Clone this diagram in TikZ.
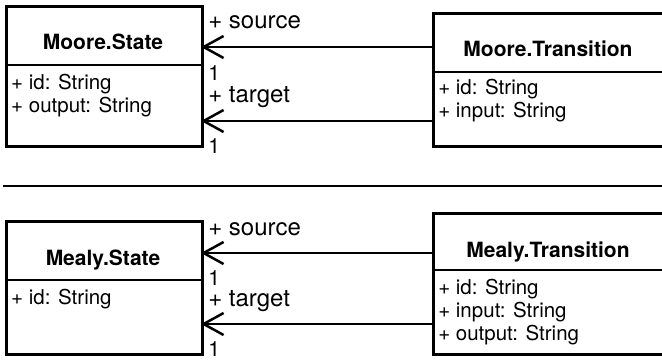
\documentclass[tikz,border=0pt]{standalone}
\usepackage{fontspec}
\setmainfont{TeX Gyre Heros}
\usetikzlibrary{arrows.meta}
\begin{document}
\begin{tikzpicture}[x=1pt,y=-1pt,
  line width=2.5pt,
  classbox/.style={draw,rectangle,inner sep=0pt,anchor=north west},
  title/.style={font=\fontsize{21}{23}\selectfont\bfseries,inner sep=0pt,anchor=base},
  attr/.style={font=\fontsize{20.5}{23}\selectfont,inner sep=0pt,anchor=base west},
  lbl/.style={font=\fontsize{24}{26}\selectfont,inner sep=0pt,anchor=base west},
  mult/.style={font=\fontsize{21}{23}\selectfont,inner sep=0pt,anchor=base west},
  assoc/.style={-{Straight Barb[length=20pt,width=22pt,line width=2.5pt]}}]
\useasboundingbox (0,0) rectangle (662,360);

% ---------- Moore ----------
\node[classbox,minimum width=196pt,minimum height=140pt] (ms) at (5,5) {};
\draw (5,65) -- (201,65);
\node[title] (mst) at (103,49) {Moore.State};
\node[attr] (msa1) at (10,89) {+ id: String};
\node[attr] (msa2) at (10,112) {+ output: String};

\node[classbox,minimum width=234pt,minimum height=133pt] (mt) at (432,12) {};
\draw (432,72) -- (666,72);
\node[title] (mtt) at (548,56) {Moore.Transition};
\node[attr] (mta1) at (437,94) {+ id: String};
\node[attr] (mta2) at (437,117) {+ input: String};

\coordinate (m1s) at (201,47);
\coordinate (m1t) at (201,121);
\draw[assoc] (mt.west |- m1s) -- (m1s);
\draw[assoc] (mt.west |- m1t) -- (m1t);
\node[lbl] (ml1) at (207,28) {+ source};
\node[mult] (mm1) at (207,80) {1};
\node[lbl] (ml2) at (207,102) {+ target};
\node[mult] (mm2) at (207,153) {1};

% separator
\draw (3,186) -- (662,186);

% ---------- Mealy ----------
\node[classbox,minimum width=196pt,minimum height=133pt] (ys) at (5,220) {};
\draw (5,280) -- (201,280);
\node[title] (yst) at (103,265) {Mealy.State};
\node[attr] (ysa1) at (10,304) {+ id: String};

\node[classbox,minimum width=234pt,minimum height=141pt] (yt) at (432,212) {};
\draw (432,270) -- (666,270);
\node[title] (ytt) at (548,257) {Mealy.Transition};
\node[attr] (yta1) at (437,294) {+ id: String};
\node[attr] (yta2) at (437,317) {+ input: String};
\node[attr] (yta3) at (437,340) {+ output: String};

\coordinate (y1s) at (201,253);
\coordinate (y1t) at (201,324);
\draw[assoc] (yt.west |- y1s) -- (y1s);
\draw[assoc] (yt.west |- y1t) -- (y1t);
\node[lbl] (yl1) at (207,235) {+ source};
\node[mult] (ym1) at (207,285) {1};
\node[lbl] (yl2) at (207,306) {+ target};
\node[mult] (ym2) at (207,356) {1};
\end{tikzpicture}
\end{document}
